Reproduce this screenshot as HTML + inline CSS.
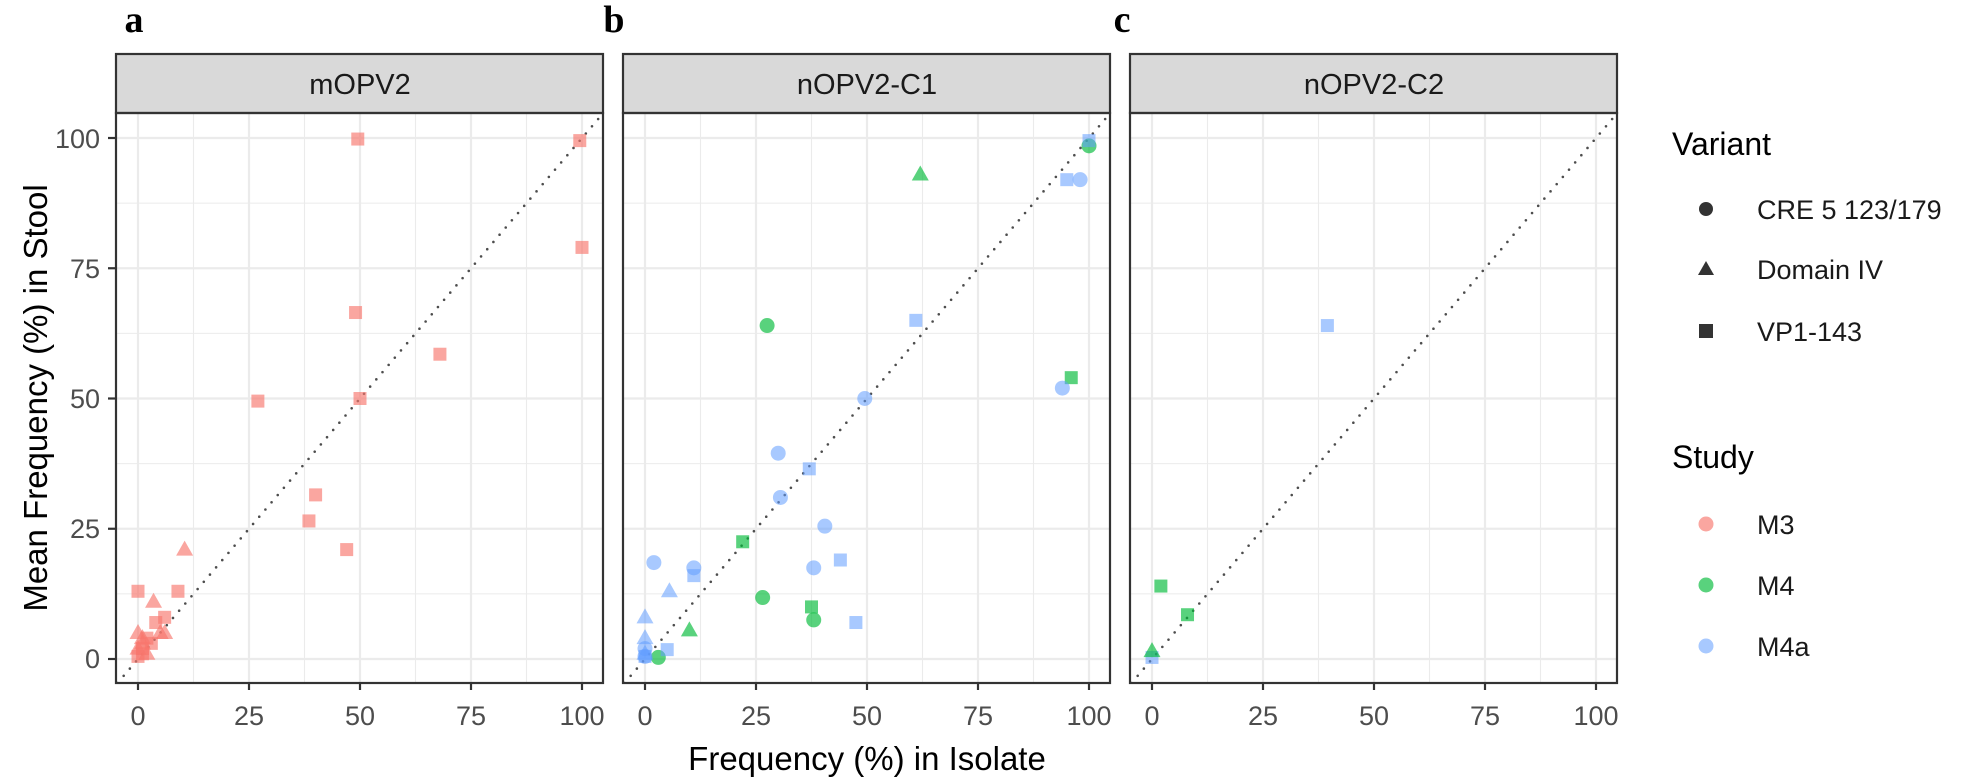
<!DOCTYPE html>
<html><head><meta charset="utf-8"><style>
html,body{margin:0;padding:0;background:#fff;}
svg{display:block;font-family:"Liberation Sans",Arial,sans-serif;}
</style></head><body>
<svg id="s" width="1967" height="779" viewBox="0 0 1967 779" xmlns="http://www.w3.org/2000/svg">
<rect width="1967" height="779" fill="#fff"/>
<g id="panels"></g>
<text x="134" y="32" font-family="Liberation Serif,serif" font-weight="bold" font-size="38" text-anchor="middle">a</text>
<text x="614" y="32" font-family="Liberation Serif,serif" font-weight="bold" font-size="38" text-anchor="middle">b</text>
<text x="1122" y="32" font-family="Liberation Serif,serif" font-weight="bold" font-size="38" text-anchor="middle">c</text>
<text x="360" y="94" font-size="29" fill="#1a1a1a" text-anchor="middle">mOPV2</text>
<text x="867" y="94" font-size="29" fill="#1a1a1a" text-anchor="middle">nOPV2-C1</text>
<text x="1374" y="94" font-size="29" fill="#1a1a1a" text-anchor="middle">nOPV2-C2</text>
<g font-size="27" fill="#4d4d4d" text-anchor="end">
<text x="100" y="148">100</text><text x="100" y="278">75</text><text x="100" y="408">50</text><text x="100" y="538">25</text><text x="100" y="668">0</text>
</g>
<g font-size="27" fill="#4d4d4d" text-anchor="middle">
<text x="138" y="725">0</text><text x="249" y="725">25</text><text x="360" y="725">50</text><text x="471" y="725">75</text><text x="582" y="725">100</text>
<text x="645" y="725">0</text><text x="756" y="725">25</text><text x="867" y="725">50</text><text x="978" y="725">75</text><text x="1089" y="725">100</text>
<text x="1152" y="725">0</text><text x="1263" y="725">25</text><text x="1374" y="725">50</text><text x="1485" y="725">75</text><text x="1596" y="725">100</text>
</g>
<text x="867" y="770" font-size="33" fill="#000" text-anchor="middle">Frequency (%) in Isolate</text>
<text transform="translate(47,398) rotate(-90)" font-size="33" fill="#000" text-anchor="middle">Mean Frequency (%) in Stool</text>
<text x="1672" y="155" font-size="32" fill="#000">Variant</text>
<circle cx="1706" cy="209" r="7" fill="#333"/>
<polygon points="1698,275 1714,275 1706,261" fill="#333"/>
<rect x="1699" y="324" width="14" height="14" fill="#333"/>
<text x="1757" y="219" font-size="27" fill="#1a1a1a">CRE 5 123/179</text>
<text x="1757" y="279" font-size="27" fill="#1a1a1a">Domain IV</text>
<text x="1757" y="341" font-size="27" fill="#1a1a1a">VP1-143</text>
<text x="1672" y="468" font-size="32" fill="#000">Study</text>
<circle cx="1706" cy="524" r="7.5" fill="#F8766D" fill-opacity="0.65"/>
<circle cx="1706" cy="585" r="7.5" fill="#00BA38" fill-opacity="0.65"/>
<circle cx="1706" cy="646" r="7.5" fill="#619CFF" fill-opacity="0.55"/>
<text x="1757" y="534" font-size="27" fill="#1a1a1a">M3</text>
<text x="1757" y="595" font-size="27" fill="#1a1a1a">M4</text>
<text x="1757" y="656" font-size="27" fill="#1a1a1a">M4a</text>
</svg>
<script>
(function(){
var NS="http://www.w3.org/2000/svg",g=document.getElementById("panels");
function el(t,a,par){var e=document.createElementNS(NS,t);for(var k in a)e.setAttribute(k,a[k]);(par||g).appendChild(e);return e;}
var L=[116,623,1130],X0=[138,645,1152],W=487,pTop=113,pBot=683;
function px(p,v){return X0[p]+4.44*v;} function py(v){return 659-5.21*v;}
var C={r:["#F8766D",0.65],g:["#00BA38",0.65],b:["#619CFF",0.55]};
var data=[
[0,"r","s",[[49.5,99.8],[99.5,99.5],[100,79],[49,66.5],[68,58.5],[27,49.5],[50,50],[40,31.5],[38.5,26.5],[47,21],[0,13],[9,13],[6,8],[4,7],[2,4],[1,2],[0,0.5],[3,3],[1,1]]],
[0,"r","t",[[10.5,21],[3.5,11],[0,5],[6,5],[1,3],[5,5],[0,2],[2,1],[1,4]]],
[1,"g","t",[[62,93],[10,5.5]]],
[1,"g","c",[[100,98.5],[27.5,64],[26.5,11.8],[38,7.5],[3,0.3]]],
[1,"g","s",[[96,54],[22,22.5],[37.5,10]]],
[1,"b","s",[[100,99.5],[95,92],[61,65],[37,36.5],[44,19],[11,16],[47.5,7],[5,1.8],[0,0.5]]],
[1,"b","c",[[98,92],[94,52],[49.5,50],[30,39.5],[30.5,31],[40.5,25.5],[38,17.5],[11,17.5],[2,18.5],[0,2],[0,0.5]]],
[1,"b","t",[[5.5,13],[0,8],[0,4],[0,1]]],
[2,"b","s",[[39.5,64],[0,0.3]]],
[2,"g","s",[[2,14],[8,8.5]]],
[2,"g","t",[[0,1.5]]]
];
var defs=el("defs",{});
for(var p=0;p<3;p++){
 var cp=el("clipPath",{id:"cp"+p},defs);
 el("rect",{x:L[p],y:pTop,width:W,height:pBot-pTop},cp);
}
for(var p=0;p<3;p++){
 var l=L[p],r=l+W;
 el("rect",{x:l,y:pTop,width:W,height:pBot-pTop,fill:"#fff"});
 for(var v=-12.5;v<=112.5;v+=12.5){var maj=(v%25===0);
  var x=px(p,v); if(x>l&&x<r) el("line",{x1:x,x2:x,y1:pTop,y2:pBot,stroke:"#ebebeb","stroke-width":maj?2.2:1.1});
  var y=py(v); if(y>pTop&&y<pBot) el("line",{x1:l,x2:r,y1:y,y2:y,stroke:"#ebebeb","stroke-width":maj?2.2:1.1});}
 el("line",{x1:px(p,-6),y1:py(-6),x2:px(p,110),y2:py(110),stroke:"#4d4d4d","stroke-width":2.6,"stroke-dasharray":"0 9.5","stroke-linecap":"round","clip-path":"url(#cp"+p+")"});
 el("rect",{x:l,y:54,width:W,height:59,fill:"#d9d9d9",stroke:"#333","stroke-width":2.2});
 for(var v=0;v<=100;v+=25){var x=px(p,v);el("line",{x1:x,x2:x,y1:pBot,y2:pBot+7,stroke:"#333","stroke-width":2.2});}
}
for(var v=0;v<=100;v+=25){var y=py(v);el("line",{x1:108,x2:116,y1:y,y2:y,stroke:"#333","stroke-width":2.2});}
data.forEach(function(d){var p=d[0],c=C[d[1]];d[3].forEach(function(q){var x=px(p,q[0]),y=py(q[1]);
 var a={fill:c[0],"fill-opacity":c[1]};
 if(d[2]=="s"){a.x=x-6.5;a.y=y-6.5;a.width=13;a.height=13;el("rect",a);}
 else if(d[2]=="c"){a.cx=x;a.cy=y;a.r=7.5;el("circle",a);}
 else{a.points=(x-8.5)+","+(y+6)+" "+(x+8.5)+","+(y+6)+" "+x+","+(y-9);el("polygon",a);}
});});
for(var p=0;p<3;p++){el("rect",{x:L[p],y:pTop,width:W,height:pBot-pTop,fill:"none",stroke:"#333","stroke-width":2.2});}
})();
</script>
</body></html>
